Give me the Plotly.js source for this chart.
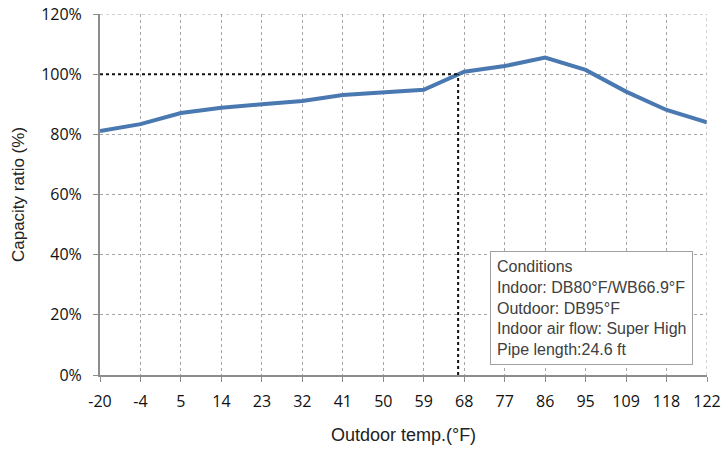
<!DOCTYPE html>
<html>
<head>
<meta charset="utf-8">
<script src="https://cdn.plot.ly/plotly-3.0.1.min.js"></script>
<style>body{margin:0;background:#fff}#chart{width:722px;height:451px}</style>
</head>
<body>
<div id="chart"></div>
<script>
const temps = ["-20","-4","5","14","23","32","41","50","59","68","77","86","95","109","118","122"];
const capacity = [81.1,83.4,87.1,88.8,90.0,91.1,93.1,94.1,94.8,100.8,102.7,105.5,101.4,94.2,88.1,84.0];
const refCapacity = 100;
const refIndex = 8.85;
const conditions = ["Conditions","Indoor: DB80°F/WB66.9°F","Outdoor: DB95°F","Indoor air flow: Super High","Pipe length:24.6 ft"];

const gridColor = "#a6a6a6";
const axisColor = "#8c8c8c";
const tickFont = {family: "'Open Sans', Lato, sans-serif", size: 16, color: "#111"};
const titleFontFamily = "'Liberation Sans', Arial, sans-serif";

const trace = {
  x: temps.map((t,i)=>i), y: capacity.map(v=>v/100),
  type: "scatter", mode: "lines",
  line: {color: "#4a78b0", width: 4},
  hoverinfo: "skip"
};

const layout = {
  width: 722, height: 451,
  margin: {l: 100, r: 15, t: 14, b: 76},
  paper_bgcolor: "#fff", plot_bgcolor: "#fff",
  showlegend: false,
  xaxis: {
    range: [0, temps.length-1],
    tickmode: "array", tickvals: temps.map((t,i)=>i), ticktext: temps,
    showgrid: true, gridcolor: gridColor, griddash: "dot", gridwidth: 1,
    showline: true, linecolor: axisColor, linewidth: 2,
    ticks: "outside", ticklen: 5, tickcolor: axisColor, tickwidth: 1,
    ticklabelstandoff: 6,
    tickfont: tickFont, zeroline: false, automargin: false,
    title: {text: "Outdoor temp.(°F)", font: {family: titleFontFamily, size: 18, color: "#222"}, standoff: 17}
  },
  yaxis: {
    range: [0, 1.2], dtick: 0.2, tickformat: ".0%",
    showgrid: true, gridcolor: gridColor, griddash: "dot", gridwidth: 1,
    showline: true, linecolor: axisColor, linewidth: 2,
    ticks: "outside", ticklen: 5, tickcolor: axisColor, tickwidth: 1,
    ticklabelstandoff: 8,
    tickfont: tickFont, zeroline: false, automargin: false,
    title: {text: "Capacity ratio (%)", font: {family: titleFontFamily, size: 17, color: "#222"}, standoff: 12}
  },
  shapes: [
    {type: "line", xref: "x", yref: "y", x0: temps.length-1, x1: temps.length-1, y0: 0, y1: 1.2, line: {color: gridColor, width: 1, dash: "dot"}},
    {type: "line", xref: "x", yref: "y", x0: 0, x1: temps.length-1, y0: 1.2, y1: 1.2, line: {color: gridColor, width: 1, dash: "dot"}},
    {type: "line", xref: "x", yref: "y", x0: 0, x1: refIndex, y0: refCapacity/100, y1: refCapacity/100, line: {color: "#111", width: 2, dash: "dot"}},
    {type: "line", xref: "x", yref: "y", x0: refIndex, x1: refIndex, y0: 0, y1: refCapacity/100, line: {color: "#111", width: 2, dash: "dot"}}
  ],
  annotations: [{
    xref: "paper", yref: "paper", x: 0.977, y: 0.027, xanchor: "right", yanchor: "bottom",
    text: conditions.join("<br>"), align: "left", showarrow: false,
    font: {family: titleFontFamily, size: 16, color: "#404040"},
    bgcolor: "#fff", bordercolor: "#a0a0a0", borderwidth: 1, borderpad: 6
  }]
};

Plotly.newPlot("chart", [trace], layout, {displayModeBar: false, staticPlot: true});
</script>
</body>
</html>
